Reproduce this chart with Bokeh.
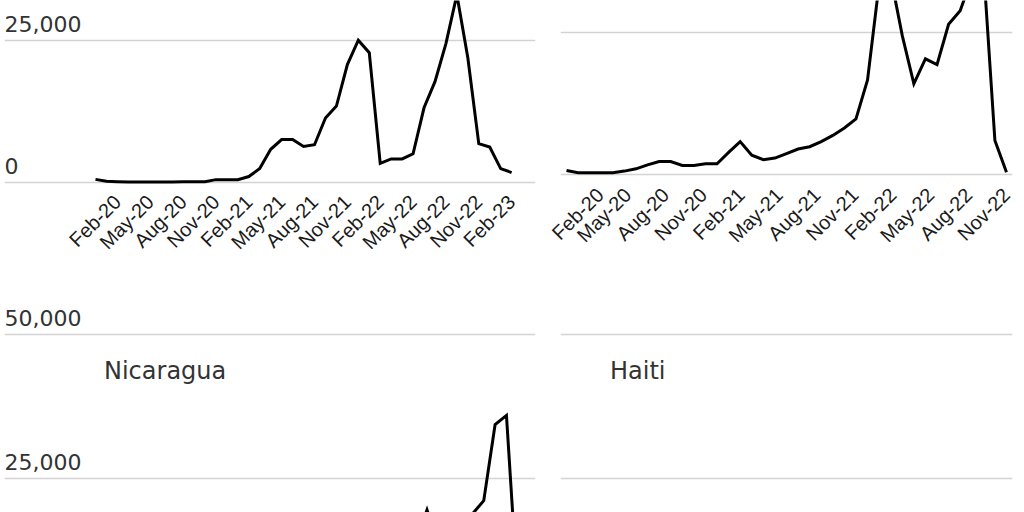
import numpy as np
from bokeh.plotting import figure
from bokeh.layouts import row, column
from bokeh.models import (Range1d, FixedTicker, Grid, LinearAxis, CustomJSTickFormatter,
                          Label, ColumnDataSource)
from bokeh.core.properties import value
from bokeh.embed import file_html
from bokeh.resources import INLINE

# ---------------- data ----------------
months = ["Dec-19",
          "Jan-20", "Feb-20", "Mar-20", "Apr-20", "May-20", "Jun-20", "Jul-20", "Aug-20", "Sep-20", "Oct-20", "Nov-20", "Dec-20",
          "Jan-21", "Feb-21", "Mar-21", "Apr-21", "May-21", "Jun-21", "Jul-21", "Aug-21", "Sep-21", "Oct-21", "Nov-21", "Dec-21",
          "Jan-22", "Feb-22", "Mar-22", "Apr-22", "May-22", "Jun-22", "Jul-22", "Aug-22", "Sep-22", "Oct-22", "Nov-22", "Dec-22",
          "Jan-23", "Feb-23"]

venezuela = [500, 150, 100, 50, 50, 50, 50, 50, 100, 100, 100, 450, 450, 450, 1000, 2400, 5800, 7500, 7500, 6300,
             6600, 11300, 13400, 20700, 25000, 22800, 3300, 4100, 4100, 5000, 13100, 17700, 24400, 33000, 21900,
             6800, 6200, 2400, 1700]

cuba = [700, 300, 300, 300, 300, 600, 1000, 1700, 2300, 2300, 1600, 1600, 1900, 1900, 3900, 5800, 3400, 2600,
        2900, 3700, 4500, 4900, 5800, 6900, 8200, 9800, 16700, 33600, 34900, 24500, 16000, 20400, 19400, 26500,
        28900, 34600, 37000, 6000, 400]

nicaragua = [300, 300, 300, 250, 100, 100, 150, 200, 300, 400, 450, 500, 550, 600, 1000, 2900, 3600, 4600, 7400,
             13400, 9600, 8500, 8700, 11600, 12500, 11000, 13300, 16400, 14000, 19500, 13500, 13600, 15500, 18800,
             21100, 34300, 35900, 5000, 1500]

haiti = [300, 250, 250, 200, 100, 150, 200, 300, 400, 500, 600, 700, 800, 900, 1500, 2000, 2200, 4000, 4300, 4500,
         7200, 17600, 4900, 1600, 1600, 1400, 1300, 2900, 5300, 6200, 5000, 3800, 4100, 5800, 4300, 5200, 5600,
         3400, 1300]

y_ticks = [0, 25000, 50000]
y_tick_labels = ["0", "25,000", "50,000"]

left_tick_labels = months[2::3]      # Feb-20 ... Feb-23
right_tick_labels = months[2:36:3]   # Feb-20 ... Nov-22

# ---------------- styling ----------------
LINE_COLOR = "#000000"
GRID_COLOR = "#d3d3d3"
TEXT_COLOR = "#333333"
TICK_COLOR = "#1a1a1a"
NUM_FONT = "DejaVu Sans"
TICK_FONT = "Liberation Sans"


def make_panel(values, width, height, xr, yr, borders, tick_pos=None, tick_labels=None,
               standoff=13, show_ylabels=False, title=None, title_x=0):
    left, right, top, bottom = borders
    p = figure(width=width, height=height, output_backend="svg", toolbar_location=None,
               x_range=Range1d(*xr), y_range=Range1d(*yr),
               x_axis_location=None, y_axis_location=None,
               min_border_left=left, min_border_right=right,
               min_border_top=top, min_border_bottom=bottom,
               background_fill_color="white", border_fill_color="white")
    p.outline_line_color = None
    p.grid.visible = False

    p.add_layout(Grid(dimension=1, ticker=FixedTicker(ticks=y_ticks),
                      grid_line_color=GRID_COLOR, grid_line_width=1.6))

    x = list(range(len(values)))
    p.line(x, values, line_color=LINE_COLOR, line_width=3, line_join="miter")

    if show_ylabels:
        vis = [(t, s) for t, s in zip(y_ticks, y_tick_labels) if yr[0] <= t <= yr[1]]
        src = ColumnDataSource(dict(x=[xr[0]] * len(vis), y=[t for t, _ in vis], t=[s for _, s in vis]))
        p.text(x="x", y="y", text="t", source=src, text_font=value(NUM_FONT),
               text_font_size="22px", text_color=TEXT_COLOR, text_align="left",
               text_baseline="alphabetic", y_offset=-16)

    if tick_pos is not None:
        ax = LinearAxis(ticker=FixedTicker(ticks=list(tick_pos)))
        ax.formatter = CustomJSTickFormatter(
            args=dict(pos=list(tick_pos), labels=tick_labels),
            code="""
                for (let i = 0; i < pos.length; i++) {
                    if (Math.abs(pos[i] - tick) < 1e-6) { return labels[i]; }
                }
                return "";
            """)
        ax.axis_line_color = None
        ax.major_tick_line_color = None
        ax.minor_tick_line_color = None
        ax.major_tick_out = 0
        ax.major_tick_in = 0
        ax.major_label_orientation = np.pi / 4
        ax.major_label_standoff = standoff
        ax.major_label_text_font = TICK_FONT
        ax.major_label_text_font_size = "20px"
        ax.major_label_text_color = TICK_COLOR
        p.add_layout(ax, "below")

    if title is not None:
        p.add_layout(Label(x=title_x, y=43640, x_units="screen", y_units="data", text=title,
                           text_font=NUM_FONT, text_font_size="24px", text_color=TEXT_COLOR,
                           text_baseline="alphabetic", text_align="left"))
    return p


TOP_H = 306
BOT_H = 512 - TOP_H
FRAME_TOP_H = 186

p_ven = make_panel(venezuela, 547, TOP_H, (-8.31, 40.18), (-757, 31990), (4, 12, 0, TOP_H - FRAME_TOP_H),
                   tick_pos=list(range(2, 39, 3)), tick_labels=left_tick_labels,
                   standoff=12, show_ylabels=True)

p_cuba = make_panel(cuba, 477, TOP_H, (-0.52, 38.52), (-2117, 30700), (13, 12, 0, TOP_H - FRAME_TOP_H),
                    tick_pos=np.linspace(2, 38, len(right_tick_labels)).tolist(),
                    tick_labels=right_tick_labels, standoff=5)

p_nic = make_panel(nicaragua, 547, BOT_H, (-8.23, 38.56), (19045, 54810), (4, 12, 0, 0),
                   show_ylabels=True, title="Nicaragua", title_x=99.5)

p_hai = make_panel(haiti, 477, BOT_H, (-0.52, 38.52), (19045, 54810), (13, 12, 0, 0),
                   title="Haiti", title_x=49.5)

layout = column(row(p_ven, p_cuba), row(p_nic, p_hai))

open("out.html", "w").write(file_html(layout, INLINE))
